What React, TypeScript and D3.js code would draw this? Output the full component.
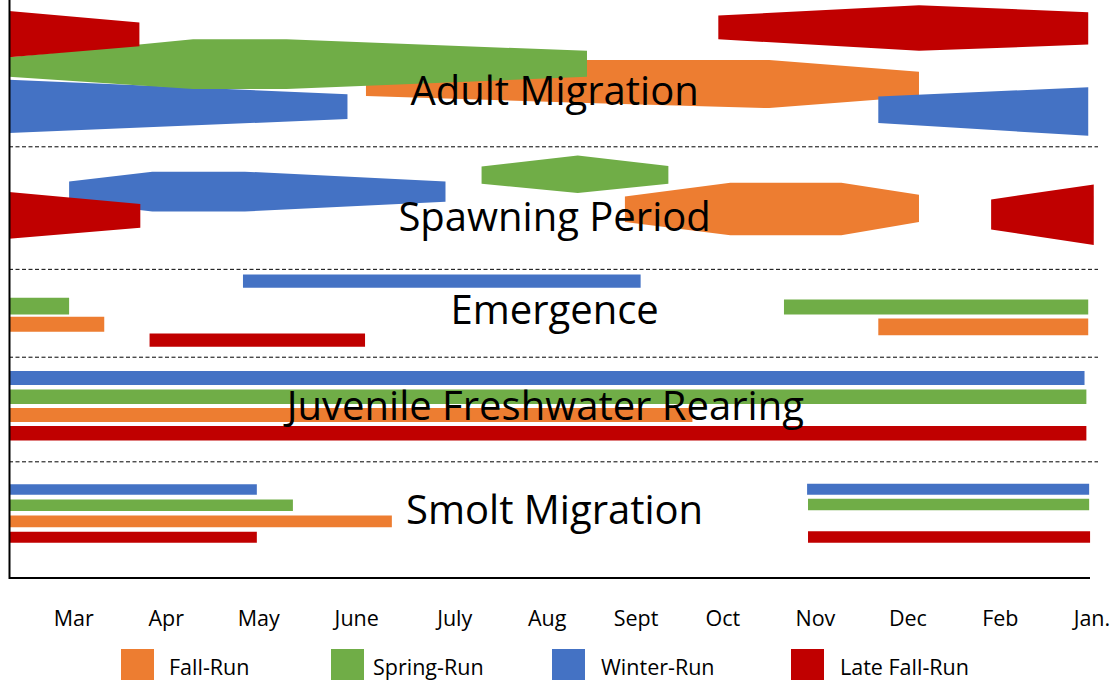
import React from "react";
import * as d3 from "d3";

// ---- data ----
const months = ["Mar", "Apr", "May", "June", "July", "Aug", "Sept", "Oct", "Nov", "Dec", "Feb", "Jan."];
const monthTicks = [0.7, 1.7, 2.7, 3.76, 4.82, 5.82, 6.78, 7.72, 8.72, 9.72, 10.72, 11.71];

const runs = ["Fall-Run", "Spring-Run", "Winter-Run", "Late Fall-Run"];
const runColors = ["#ED7D31", "#70AD47", "#4472C4", "#C00000"];

type Pt = [number, number, number]; // [month, top, bottom] in chart row units (0-100)
type Shape = { run: string; pts: Pt[] };

const adultMigration: Shape[] = [
  { run: "Fall-Run", pts: [[3.86, 13.8, 16.6], [6.25, 10.4, 17.8], [8.22, 10.4, 18.7], [9.84, 12.4, 16.7]] },
  { run: "Winter-Run", pts: [[0, 13.8, 23.0], [3.66, 16.3, 20.6]] },
  { run: "Winter-Run", pts: [[9.4, 16.7, 21.3], [11.67, 15.1, 23.5]] },
  { run: "Spring-Run", pts: [[0, 9.9, 13.3], [1.99, 6.8, 15.4], [3.0, 6.8, 15.4], [6.25, 8.8, 13.3]] },
  { run: "Late Fall-Run", pts: [[0, 1.9, 9.9], [1.41, 3.9, 8.0]] },
  { run: "Late Fall-Run", pts: [[7.67, 2.7, 6.8], [9.84, 0.9, 8.8], [11.67, 2.1, 7.7]] },
];

const spawningPeriod: Shape[] = [
  { run: "Winter-Run", pts: [[0.65, 31.4, 34.9], [1.55, 29.7, 36.6], [2.55, 29.7, 36.6], [4.72, 31.4, 34.9]] },
  { run: "Late Fall-Run", pts: [[0, 33.2, 41.3], [1.42, 35.3, 39.4]] },
  { run: "Spring-Run", pts: [[5.11, 28.8, 31.8], [6.15, 26.9, 33.4], [7.13, 28.7, 31.8]] },
  { run: "Fall-Run", pts: [[6.66, 34.0, 38.4], [7.8, 31.6, 40.7], [9.0, 31.6, 40.7], [9.84, 33.7, 38.4]] },
  { run: "Late Fall-Run", pts: [[10.62, 34.5, 39.7], [11.73, 31.9, 42.4]] },
];

const emergence: Shape[] = [
  { run: "Winter-Run", pts: [[2.53, 47.5, 49.8], [6.83, 47.5, 49.8]] },
  { run: "Spring-Run", pts: [[0, 51.5, 54.4], [0.65, 51.5, 54.4]] },
  { run: "Fall-Run", pts: [[0, 54.8, 57.4], [1.03, 54.8, 57.4]] },
  { run: "Late Fall-Run", pts: [[1.52, 57.7, 60.0], [3.85, 57.7, 60.0]] },
  { run: "Spring-Run", pts: [[8.38, 51.8, 54.4], [11.67, 51.8, 54.4]] },
  { run: "Fall-Run", pts: [[9.4, 55.1, 58.0], [11.67, 55.1, 58.0]] },
];

const juvenileRearing: Shape[] = [
  { run: "Winter-Run", pts: [[0, 64.2, 66.6], [11.63, 64.2, 66.6]] },
  { run: "Spring-Run", pts: [[0, 67.4, 69.9], [11.65, 67.4, 69.9]] },
  { run: "Fall-Run", pts: [[0, 70.6, 73.0], [7.39, 70.6, 73.0]] },
  { run: "Late Fall-Run", pts: [[0, 73.7, 76.2], [11.65, 73.7, 76.2]] },
];

const smoltMigration: Shape[] = [
  { run: "Winter-Run", pts: [[0, 83.8, 85.6], [2.68, 83.8, 85.6]] },
  { run: "Winter-Run", pts: [[8.63, 83.7, 85.6], [11.68, 83.7, 85.6]] },
  { run: "Spring-Run", pts: [[0, 86.4, 88.4], [3.07, 86.4, 88.4]] },
  { run: "Spring-Run", pts: [[8.64, 86.3, 88.3], [11.68, 86.3, 88.3]] },
  { run: "Fall-Run", pts: [[0, 89.2, 91.2], [4.14, 89.2, 91.2]] },
  { run: "Late Fall-Run", pts: [[0, 92.0, 93.9], [2.68, 92.0, 93.9]] },
  { run: "Late Fall-Run", pts: [[8.64, 91.9, 93.9], [11.69, 91.9, 93.9]] },
];

const stageNames = ["Adult Migration", "Spawning Period", "Emergence", "Juvenile Freshwater Rearing", "Smolt Migration"];
const stageShapes = [adultMigration, spawningPeriod, emergence, juvenileRearing, smoltMigration];
const stageDividers = [25.4, 46.6, 61.8, 79.9];

// ---- layout ----
const W = 1115;
const H = 680;
const plot = { left: 9, right: 1091, top: 0, bottom: 578 };
const titleCenters = [5.9, 5.9, 5.9, 5.8, 5.9];
const titleBaselines = [18.2, 39.9, 56.0, 72.6, 90.7];
const legendSquareX = [121, 331, 552, 791];
const legendTextX = [169, 373, 601, 840];
const FONT = "'Open Sans', 'DejaVu Sans', sans-serif";

export default function App() {
  const x = d3.scaleLinear().domain([0, 11.7]).range([plot.left, plot.right]);
  const y = d3.scaleLinear().domain([0, 100]).range([plot.top, plot.bottom]);
  const color = d3.scaleOrdinal<string, string>().domain(runs).range(runColors);
  const area = d3
    .area<Pt>()
    .x((d) => x(d[0]))
    .y0((d) => y(d[2]))
    .y1((d) => y(d[1]))
    .curve(d3.curveLinear);

  return (
    <svg
      width={W}
      height={H}
      style={{ position: "absolute", left: 0, top: 0, background: "#fff" }}
      fontFamily={FONT}
    >
      <rect x={0} y={0} width={W} height={H} fill="#fff" />
      {stageDividers.map((v, i) => (
        <line
          key={"d" + i}
          x1={plot.left}
          x2={1098}
          y1={y(v)}
          y2={y(v)}
          stroke="#000"
          strokeWidth={1}
          strokeDasharray="4 2.5"
        />
      ))}
      {stageShapes.map((shapes, si) => (
        <g key={"s" + si}>
          {shapes.map((s, i) => (
            <path key={i} d={area(s.pts) || ""} fill={color(s.run)} />
          ))}
        </g>
      ))}
      {stageNames.map((name, i) => (
        <text
          key={"t" + i}
          x={x(titleCenters[i])}
          y={y(titleBaselines[i])}
          textAnchor="middle"
          fontSize={40}
          fill="#000"
        >
          {name}
        </text>
      ))}
      <line x1={plot.left + 0.5} x2={plot.left + 0.5} y1={0} y2={plot.bottom + 1} stroke="#000" strokeWidth={2} />
      <line x1={plot.left} x2={1090} y1={plot.bottom} y2={plot.bottom} stroke="#000" strokeWidth={2} />
      {months.map((m, i) => (
        <text key={"m" + i} x={x(monthTicks[i])} y={626} textAnchor="middle" fontSize={21.5} fill="#000">
          {m}
        </text>
      ))}
      {runs.map((r, i) => (
        <g key={"l" + i}>
          <rect x={legendSquareX[i]} y={649} width={33} height={34} fill={runColors[i]} />
          <text x={legendTextX[i]} y={675} fontSize={21.5} fill="#000">
            {r}
          </text>
        </g>
      ))}
    </svg>
  );
}
